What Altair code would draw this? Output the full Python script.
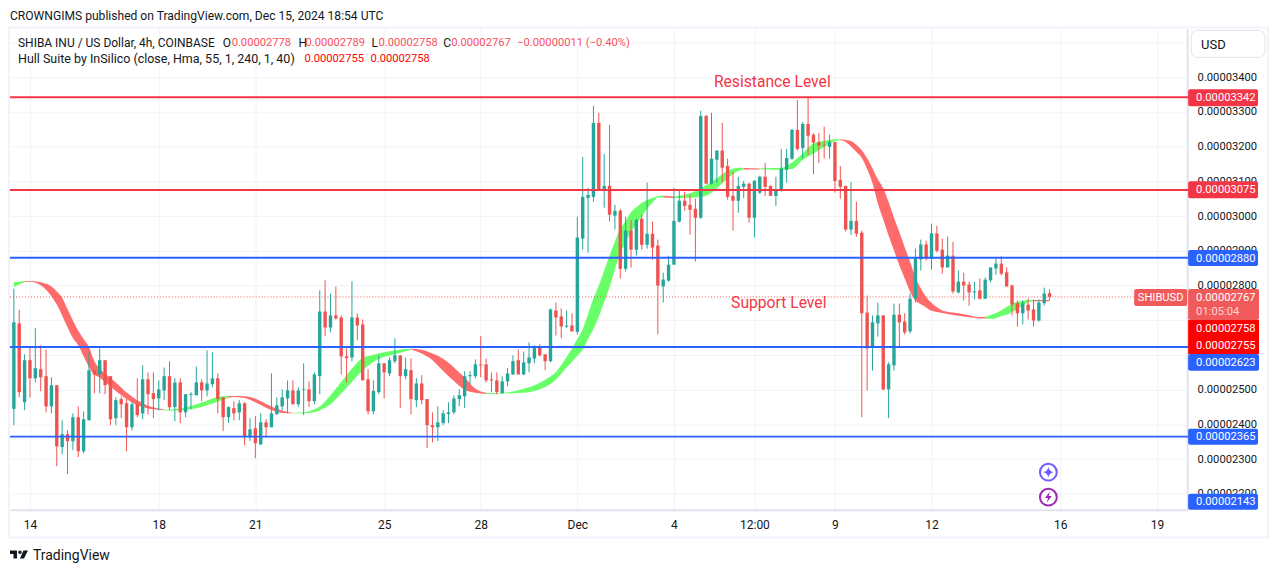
import altair as alt
import pandas as pd

highs = [2791,2730,2602,2621,2677,2628,2616,2536,2513,2412,2383,2432,2452,2438,2608,2556,2619,2585,2539,2478,2481,2473,2464,2533,2570,2550,2550,2527,2564,2582,2533,2533,2487,2493,2567,2530,2613,2608,2547,2478,2452,2467,2470,2464,2418,2424,2432,2415,2547,2478,2501,2527,2527,2507,2576,2524,2550,
2786,2815,2777,2797,2714,2619,2812,2720,2702,2559,2527,2599,2576,2593,2648,2599,2593,2590,2533,2542,2473,2435,2452,2441,2464,2484,2501,2553,2553,2587,2654,2590,2550,2550,2539,2562,2599,2616,2610,2636,2628,2631,2602,2734,2751,2734,2728,2720,
2998,3170,3081,3317,3297,3179,3262,3032,3021,2998,2989,2992,3004,3096,2984,2932,2837,2886,3081,3073,3070,3061,3050,3303,3291,3297,3190,3268,3165,3127,3113,3101,3096,3104,3116,3153,3087,3113,3193,3193,3251,3334,3271,3340,3239,3239,3257,3234,3213,3144,3087,3098,3041,
2958,2771,2714,2751,2714,2579,2748,2748,2720,2777,2906,2932,2929,2978,2972,2935,2941,2926,2843,2837,2811,2811,2820,2823,2852,2878,2884,2852,2803,2757,2757,2763,2760,2760,2794,2789]

body_tops = [2694,2691,2585,2585,2562,2559,2539,2513,2513,2372,2372,2421,2421,2415,2556,2556,2585,2585,2539,2470,2473,2461,2458,2458,2530,2530,2490,2501,2539,2539,2521,2521,2487,2488,2521,2521,2518,2533,2533,2478,2450,2447,2461,2461,2386,2389,2406,2406,2432,2455,2478,2498,2498,2498,2501,2501,2544,
2725,2725,2714,2714,2708,2596,2708,2708,2688,2530,2496,2576,2576,2585,2599,2599,2559,2556,2518,2518,2473,2398,2406,2432,2435,2475,2484,2539,2542,2573,2573,2573,2530,2527,2524,2547,2582,2585,2579,2593,2625,2625,2602,2731,2728,2711,2685,2685,
2938,3055,3061,3268,3268,3087,3087,3015,3015,2958,2958,2989,2992,2949,2949,2915,2817,2860,2986,3044,3044,3032,3021,3288,3288,3165,3188,3188,3144,3058,3087,3093,3093,3101,3113,3113,3087,3075,3136,3167,3248,3248,3265,3265,3234,3213,3205,3213,3213,3104,3087,2986,2986,
2952,2722,2694,2714,2714,2573,2716,2716,2696,2762,2878,2918,2918,2950,2950,2903,2886,2886,2811,2811,2803,2783,2786,2817,2852,2863,2863,2838,2800,2749,2749,2745,2731,2751,2777,2778]

body_bots = [2445,2493,2464,2533,2533,2536,2452,2452,2337,2335,2352,2352,2323,2323,2412,2544,2544,2513,2415,2418,2458,2392,2392,2427,2432,2487,2473,2475,2498,2450,2450,2435,2435,2485,2484,2498,2498,2516,2473,2421,2421,2432,2435,2363,2363,2346,2343,2392,2392,2429,2452,2475,2458,2458,2499,2467,2467,
2539,2679,2679,2705,2596,2591,2593,2685,2527,2438,2438,2493,2550,2547,2582,2539,2539,2473,2470,2470,2398,2392,2392,2404,2430,2435,2473,2481,2539,2539,2570,2527,2527,2493,2490,2524,2544,2544,2544,2576,2590,2599,2582,2582,2708,2682,2682,2668,
2667,2935,3052,3055,3073,3073,3004,3001,2848,2848,2903,2903,2917,2917,2909,2800,2797,2814,2860,2984,3029,3018,2995,2995,3093,3093,3162,3139,3055,3044,3044,3084,2995,2995,3067,3084,3058,3058,3073,3133,3165,3193,3196,3231,3211,3202,3203,3199,3101,3084,2961,2961,2949,
2720,2619,2622,2691,2501,2501,2570,2694,2665,2668,2762,2875,2878,2878,2900,2852,2852,2783,2780,2800,2780,2780,2762,2762,2815,2849,2834,2797,2745,2720,2720,2728,2699,2699,2749,2767]

lows = [2398,2478,2441,2478,2521,2496,2435,2432,2280,2314,2257,2326,2306,2317,2412,2490,2490,2487,2398,2398,2418,2323,2383,2421,2415,2429,2418,2441,2470,2441,2409,2404,2421,2444,2484,2467,2481,2507,2432,2381,2404,2412,2412,2340,2352,2303,2340,2363,2392,2429,2441,2432,2458,2450,2427,2450,2458,
2487,2654,2665,2702,2544,2521,2582,2642,2527,2429,2429,2487,2475,2539,2576,2447,2530,2429,2450,2458,2332,2349,2352,2398,2404,2429,2452,2447,2516,2533,2536,2521,2493,2487,2490,2510,2542,2544,2542,2550,2576,2596,2556,2579,2656,2648,2677,2668,
2659,2903,2894,3041,3073,3024,2984,2961,2820,2840,2851,2886,2903,2906,2874,2659,2751,2811,2860,2981,3015,2946,2869,2992,3093,3090,3096,3096,3047,2958,3009,3052,2981,2938,3064,3058,3058,3029,3070,3096,3162,3188,3165,3176,3121,3153,3165,3165,3067,3050,2955,2946,2940,
2421,2498,2555,2653,2498,2418,2555,2625,2659,2662,2751,2843,2872,2846,2895,2834,2852,2777,2777,2757,2742,2760,2760,2762,2809,2831,2829,2797,2714,2682,2688,2702,2682,2696,2742,2758]

directions = ("TRTRTRRTRT" "RTRTTRTRRT" "RRTRTRRTTR" "TRTTTRTTRR" "TRTRTRTRTT" "TTRTTRT"
              "TRTRRRTRRR" "TTRTTRTRTR" "RRTTTTTTTT" "RRRRTTTRTT" "TRRTRRTR"
              "TTTTRTRTRT" "RTRTRRTTTT" "RRRTRTTRRR" "TTRTTRRTTT" "TRTRRRRTRR"
              "RTRRRTTRTT" "RRTTTRTRRT" "RTRRTRTTTR" "RRRTRRTTR")

first_bar = -3

hull_bar = [-3,-2,-1,0,2,4,5,6,7,8,9,10,11,12,13,14,16,18,20,22,24,25,27,30,32,34,36,37,38,40,42,44,46,48,49,51,53,54,56,58,60,62,64,66,68,70,71,73,75,77,79,81,83,85,87,90,92,94,96,98,100,102,103,104,105,106,107,108,109,110,111,112,113,114,115,116,117,118,120,122,124,126,128,130,132,133,136,138,140,142,144,146,148,149,150,151,152,153,154,155,156,157,158,159,160,161,162,163,164,165,166,167,168,170,172,174,176,177,178,179,180,181,182,183,184,185,186,187,188,190]
hull_top = [2809,2811,2813,2813,2809,2797,2783,2765,2732,2699,2670,2646,2623,2582,2561,2546,2521,2492,2470,2454,2446,2443,2444,2453,2463,2475,2481,2482,2482,2481,2474,2459,2445,2436,2434,2435,2444,2452,2484,2522,2561,2591,2601,2608,2613,2617,2618,2615,2604,2589,2564,2535,2503,2491,2490,2495,2503,2513,2529,2551,2594,2646,2675,2718,2763,2800,2843,2886,2927,2963,2986,3011,3025,3038,3046,3052,3057,3058,3056,3061,3071,3089,3109,3130,3139,3138,3137,3138,3139,3154,3181,3209,3217,3219,3221,3221,3219,3216,3205,3189,3166,3137,3106,3080,3040,2995,2954,2910,2868,2823,2792,2767,2750,2728,2722,2717,2711,2709,2710,2715,2721,2729,2739,2747,2753,2756,2758,2758,2758,2758]
hull_bot = [2795,2803,2810,2811,2801,2769,2745,2714,2680,2649,2628,2596,2565,2544,2535,2522,2496,2473,2455,2446,2442,2441,2440,2444,2450,2460,2472,2476,2479,2476,2464,2448,2436,2432,2432,2432,2435,2441,2458,2489,2522,2556,2580,2594,2602,2611,2616,2604,2585,2554,2525,2500,2491,2488,2488,2490,2491,2496,2508,2529,2564,2598,2615,2646,2675,2710,2753,2795,2847,2891,2927,2954,2976,2998,3021,3038,3053,3053,3052,3052,3053,3058,3080,3108,3130,3134,3134,3134,3133,3135,3162,3180,3199,3209,3216,3218,3213,3200,3184,3167,3135,3094,3036,2990,2944,2901,2858,2820,2783,2757,2746,2737,2727,2721,2715,2711,2707,2705,2705,2704,2706,2712,2716,2723,2732,2743,2752,2755,2755,2755]
# trend starting at each listed bar: G rising, R falling
hull_switch_bars = [-3,-1,25,37,49,71,85,118,120,133,136,151,178,187]
hull_switch_trend = ["G","R","G","R","G","R","G","R","G","R","G","R","G","R"]

levels = [3342, 3075, 2880, 2623, 2365]
level_colors = ["#f23645", "#f23645", "#2962ff", "#2962ff", "#2962ff"]
last_price = 2767
y_ticks = [3500,3400,3300,3200,3100,3000,2900,2800,2700,2600,2500,2400,2300,2200]
y_ticks_unlabelled = [3500,2700,2600]
x_tick_bars = [0,24,42,66,84,102,120,135,150,168,192,210]
x_tick_labels = ["14","18","21","25","28","Dec","4","12:00","9","12","16","19"]

assert len(highs)==len(body_tops)==len(body_bots)==len(lows)==len(directions)==194, (len(highs),len(body_tops),len(body_bots),len(lows),len(directions))
assert len(hull_bar)==len(hull_top)==len(hull_bot), (len(hull_bar),len(hull_top),len(hull_bot))

TEAL = "#26a69a"
RED = "#ef5350"
INK = "#131722"
FONT = "Roboto"
GRID = "#f0f3fa"
EDGE = "#e0e3eb"
NUM = 11.2

candles = pd.DataFrame({
    "bar": [first_bar + k for k in range(len(highs))],
    "high": highs, "low": lows, "top": body_tops, "bot": body_bots,
    "dir": list(directions),
})

rows = []
for s, (start, trend) in enumerate(zip(hull_switch_bars, hull_switch_trend)):
    end = hull_switch_bars[s + 1] if s + 1 < len(hull_switch_bars) else 10**6
    for b, t, d in zip(hull_bar, hull_top, hull_bot):
        if start <= b <= end:
            rows.append({"bar": b, "top": t, "bot": d, "trend": trend, "seg": s})
hull = pd.DataFrame(rows)

X = alt.Scale(domain=[-3.72, 215.63], nice=False, zero=False, padding=0)
Y = alt.Scale(domain=[2154.8, 3540], nice=False, zero=False, padding=0)
label_map = "{" + ",".join(f"'{b}':'{l}'" for b, l in zip(x_tick_bars, x_tick_labels)) + "}"
hidden_test = "||".join(f"datum.value=={v}" for v in y_ticks_unlabelled)

x_axis = alt.Axis(values=x_tick_bars, labelExpr=label_map + "[datum.value]", title=None, ticks=False,
                  labelPadding=10, labelFont=FONT, labelFontSize=12, labelColor=INK,
                  gridColor=GRID, domainColor=EDGE, domainWidth=2, grid=True, labelFlush=False, labelOverlap=False)
y_axis = alt.Axis(values=y_ticks, labelExpr=f"({hidden_test})?'':format(datum.value/1e8,'.8f')", title=None, ticks=False, orient="right",
                  labelPadding=10, labelFont=FONT, labelFontSize=NUM, labelColor=INK, labelAlign="left",
                  gridColor=GRID, domainColor=EDGE, domainWidth=2, grid=True, labelOverlap=False, labelFlush=False)

def XE(f): return alt.X(f, scale=X, axis=x_axis)
def YE(f): return alt.Y(f, scale=Y, axis=y_axis)

def band(trend, color):
    return alt.Chart(hull[hull.trend == trend]).mark_area(interpolate="monotone", color=color, opacity=1).encode(
        x=XE("bar:Q"), y=YE("top:Q"), y2="bot:Q", detail="seg:N",
    )

def px(v): return alt.value(v - 10)
def py(v): return alt.value(v - 28)
one = pd.DataFrame({"a": [0]})

def txt(s, x, y, color=INK, size=12, align="left", font=FONT, weight="normal"):
    return alt.Chart(pd.DataFrame({"t": [s]})).mark_text(
        align=align, baseline="middle", color=color, fontSize=size, font=font, fontWeight=weight
    ).encode(x=px(x), y=py(y + 0.5), text="t:N")

def box(x0, x1, y0, y1, fill=None, stroke=None, sw=1, r=0):
    kw = {}
    if fill: kw["fill"] = fill
    else: kw["fillOpacity"] = 0
    if stroke: kw["stroke"] = stroke; kw["strokeWidth"] = sw
    return alt.Chart(one).mark_rect(cornerRadius=r, **kw).encode(x=px(x0), x2=px(x1), y=py(y0), y2=py(y1))

def sym(x, y, shape, size, color=None, stroke=None, sw=2):
    kw = {"filled": bool(color)}
    if color: kw["color"] = color
    if stroke: kw["stroke"] = stroke; kw["strokeWidth"] = sw
    return alt.Chart(one).mark_point(shape=shape, size=size, opacity=1, **kw).encode(x=px(x), y=py(y))

color_dir = alt.Color("dir:N", scale=alt.Scale(domain=["T", "R"], range=[TEAL, RED]), legend=None)
wicks = alt.Chart(candles).mark_rule(strokeWidth=1).encode(
    x=XE("bar:Q"), y=YE("low:Q"), y2="high:Q", color=color_dir,
)
bodies = alt.Chart(candles).mark_bar(size=3.4).encode(
    x=XE("bar:Q"), y=YE("top:Q"), y2="bot:Q", color=color_dir,
)
level_rules = alt.Chart(pd.DataFrame({"p": levels, "c": level_colors})).mark_rule(strokeWidth=2).encode(
    y=YE("p:Q"), x=alt.value(0), x2=alt.value(1180),
    color=alt.Color("c:N", scale=None),
)
last_rule = alt.Chart(pd.DataFrame({"p": [last_price]})).mark_rule(strokeWidth=1, strokeDash=[1, 2], color=RED).encode(
    y=YE("p:Q"), x=alt.value(0), x2=alt.value(1126),
)

LOGO = ("M-1 -.444H-.222V.444H-.611V-.056H-1Z M.5 -.444H1L.556 .444H.111Z "
        "M-.083 -.25a.194 .194 0 1 0 .388 0a.194 .194 0 1 0 -.388 0Z")
STAR = "M0 -1Q.15 -.15 1 0Q.15 .15 0 1Q-.15 .15 -1 0Q-.15 -.15 0 -1Z"
BOLT = "M.3 -1L-.6 .15L-.05 .15L-.3 1L.6 -.2L.05 -.2Z"

HDR = "#f7525f"
extras = [
    box(9, 1270, 27, 538, stroke=GRID, sw=2),
    txt("CROWNGIMS published on TradingView.com, Dec 15, 2024 18:54 UTC", 10, 15, size=12.1),
    txt("SHIBA INU / US Dollar, 4h, COINBASE", 18, 42),
    txt("O", 223, 42), txt("0.00002778", 232, 42, HDR, NUM),
    txt("H", 299, 42), txt("0.00002789", 306, 42, HDR, NUM),
    txt("L", 372, 42), txt("0.00002758", 379, 42, HDR, NUM),
    txt("C", 444, 42), txt("0.00002767", 452, 42, HDR, NUM),
    txt("\u22120.00000011 (\u22120.40%)", 518, 42, HDR, NUM),
    txt("Hull Suite by InSilico (close, Hma, 55, 1, 240, 1, 40)", 18, 58, size=12.5),
    txt("0.00002755", 305, 58, "#ff0000", NUM), txt("0.00002758", 371, 58, "#ff0000", NUM),
    txt("Resistance Level", 773.5, 81, "#f23645", 15.7, "center"),
    txt("Support Level", 780, 303, "#f23645", 15.7, "center"),
    box(1193, 1267, 30, 57, fill="#ffffff", stroke=EDGE, sw=1, r=6),
    txt("USD", 1203, 44, INK, 13),
    box(1190, 1260, 89, 106, fill="#f23645", r=2), txt("0.00003342", 1198, 97.5, "#ffffff", NUM),
    box(1190, 1260, 181, 198, fill="#f23645", r=2), txt("0.00003075", 1198, 189.5, "#ffffff", NUM),
    box(1190, 1260, 250, 266, fill="#2962ff", r=2), txt("0.00002880", 1198, 258, "#ffffff", NUM),
    box(1136, 1189, 289, 306, fill="#f05a5a", r=2), txt("SHIBUSD", 1162.5, 297.5, "#ffffff", NUM, "center"),
    box(1190, 1261, 289, 320, fill="#f05a5a", r=2),
    txt("0.00002767", 1198, 298, "#ffffff", NUM), txt("01:05:04", 1198, 312, "#fcd5d5", NUM),
    box(1190, 1261, 320, 337, fill="#ff0000"), txt("0.00002758", 1198, 328.5, "#ffffff", NUM),
    box(1190, 1261, 337, 354, fill="#ff0000"), txt("0.00002755", 1198, 345.5, "#ffffff", NUM),
    box(1190, 1261, 354, 371, fill="#2962ff", r=2), txt("0.00002623", 1198, 362.5, "#ffffff", NUM),
    box(1190, 1260, 429, 445, fill="#2962ff", r=2), txt("0.00002365", 1198, 437, "#ffffff", NUM),
    box(1190, 1260, 494, 510, fill="#2962ff", r=2), txt("0.00002143", 1198, 502, "#ffffff", NUM),
    sym(1050, 472.5, "circle", 283, color=None, stroke="#6e5bff", sw=2),
    sym(1050, 472.5, STAR, 110, color="#6e5bff"),
    sym(1050, 497.5, "circle", 283, color=None, stroke="#9c27b0", sw=2),
    sym(1050, 497.5, BOLT, 130, color="#9c27b0"),
    sym(19, 555, LOGO, 324, color=INK),
    txt("TradingView", 33, 555.5, INK, 14),
]

chart = alt.layer(
    band("G", "#69ff69"), band("R", "#ff6b6b"), last_rule, wicks, bodies, level_rules, *extras
).resolve_scale(color="independent").properties(
    width=1179, height=482,
    padding={"left": 2, "top": 20, "right": 86, "bottom": 60},
    autosize=alt.AutoSizeParams(type="none"),
).configure_view(stroke=None)

chart.save("out.html", embed_options={"renderer": "svg", "actions": False})
